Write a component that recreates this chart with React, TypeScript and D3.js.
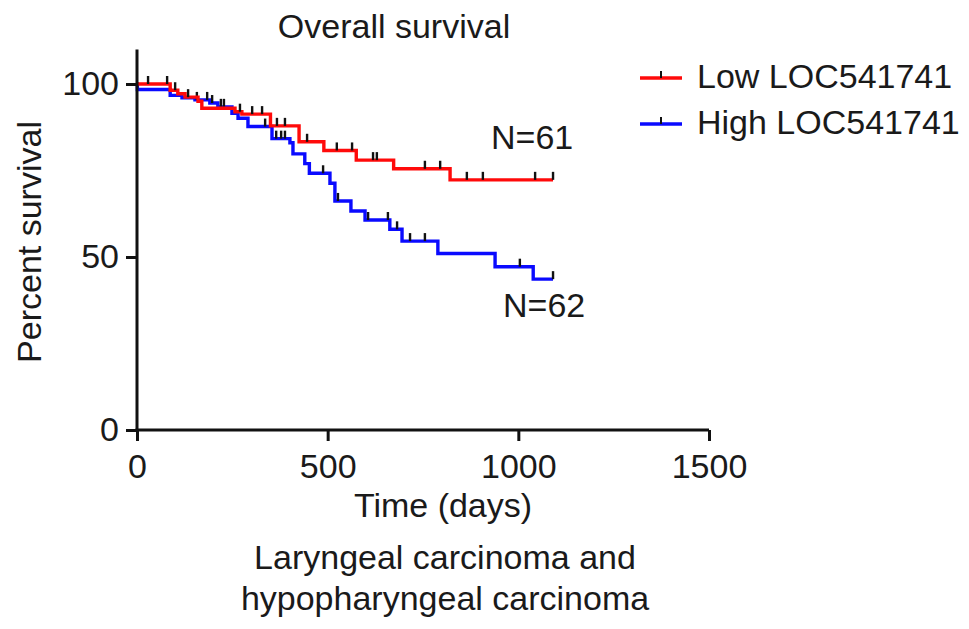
import { useEffect, useRef } from 'react'
import * as d3 from 'd3'

// Kaplan-Meier steps: [day, percent surviving after the event]
const lowSteps: [number, number][] = [
  [0, 100], [87, 98.2], [107, 97.2], [126, 96.2], [160, 95.0], [170, 93.0],
  [257, 92.0], [275, 91.3], [350, 87.9], [425, 83.3], [490, 80.8],
  [575, 78.0], [673, 75.5], [821, 72.3],
]
const highSteps: [number, number][] = [
  [0, 100], [1, 98.4], [87, 96.7], [118, 96.0], [152, 95.4], [191, 94.5],
  [212, 93.4], [249, 91.5], [265, 90.1], [291, 87.7], [354, 84.2], [401, 83.0],
  [409, 79.8], [440, 77.0], [452, 74.2], [506, 71.3], [519, 66.2], [561, 63.3],
  [598, 60.7], [663, 58.0], [695, 54.6], [789, 51.0], [939, 47.2], [1039, 43.6],
]
const lowEnd = 1091
const highEnd = 1091

// censored observations (days)
const lowCensored = [29, 79, 100, 134, 270, 302, 328, 367, 388, 446, 524, 564, 619, 629, 755, 795, 865, 907, 1044, 1091]
const highCensored = [157, 184, 197, 220, 228, 336, 365, 378, 388, 488, 527, 606, 658, 682, 716, 755, 1004, 1091]

const xTicks = [0, 500, 1000, 1500]
const yTicks = [0, 50, 100]
const seriesNames = ['Low LOC541741', 'High LOC541741']
const seriesColors = ['#ff0a0a', '#0a0aff']
const nLabels = ['N=61', 'N=62']

const FONT = '"Liberation Sans", Arial, Helvetica, sans-serif'
const FS = 34

export default function App() {
  const ref = useRef<SVGSVGElement>(null)

  useEffect(() => {
    if (!ref.current) return
    const svg = d3.select(ref.current)
    svg.selectAll('*').remove()

    const x = d3.scaleLinear().domain([0, 1500]).range([137, 709])
    const y = d3.scaleLinear().domain([0, 110]).range([430, 49.4])

    const levelAt = (steps: [number, number][], t: number) => {
      let v = steps[0][1]
      for (const s of steps) if (s[0] <= t) v = s[1]
      return v
    }

    const line = d3.line<[number, number]>()
      .x(d => x(d[0]))
      .y(d => y(d[1]))
      .curve(d3.curveStepAfter)

    const groups = [
      { steps: lowSteps, end: lowEnd, cens: lowCensored, color: seriesColors[0] },
      { steps: highSteps, end: highEnd, cens: highCensored, color: seriesColors[1] },
    ]

    // draw high first so low sits on top like the original
    ;[groups[1], groups[0]].forEach(g => {
      const pts: [number, number][] = [...g.steps, [g.end, g.steps[g.steps.length - 1][1]]]
      svg.append('path')
        .attr('d', line(pts) as string)
        .attr('fill', 'none')
        .attr('stroke', g.color)
        .attr('stroke-width', 3.4)
      g.cens.forEach(t => {
        const yy = y(levelAt(g.steps, t))
        svg.append('line')
          .attr('x1', x(t)).attr('x2', x(t))
          .attr('y1', yy).attr('y2', yy - 8)
          .attr('stroke', '#111')
          .attr('stroke-width', 2.4)
      })
    })

    // axes
    const xAxis = svg.append('g')
      .attr('transform', `translate(0,${y(0)})`)
      .call(d3.axisBottom(x).tickValues(xTicks).tickFormat(d3.format('d')).tickSize(11).tickPadding(6).tickSizeOuter(0))
    const yAxis = svg.append('g')
      .attr('transform', `translate(${x(0)},0)`)
      .call(d3.axisLeft(y).tickValues(yTicks).tickFormat(d3.format('d')).tickSize(11).tickPadding(7).tickSizeOuter(0))

    ;[xAxis, yAxis].forEach(a => {
      a.select('.domain').attr('stroke', '#111').attr('stroke-width', 3)
      a.selectAll('.tick line').attr('stroke', '#111').attr('stroke-width', 3)
      a.selectAll('.tick text')
        .attr('fill', '#1a1a1a')
        .style('font-family', FONT)
        .style('font-size', `${FS}px`)
    })
    // y axis runs to the top of the domain, x axis from the corner to 1500
    yAxis.select('.domain').attr('d', `M0,${y(0) + 1.5}V${y(110)}`)
    xAxis.select('.domain').attr('d', `M${x(0) - 1.5},0H${x(1500)}`)
    xAxis.selectAll('.tick text').attr('dy', '0.9em')

    const txt = (tx: number, ty: number, s: string, anchor = 'middle', size = FS) =>
      svg.append('text')
        .attr('x', tx).attr('y', ty)
        .attr('text-anchor', anchor)
        .style('font-family', FONT)
        .style('font-size', `${size}px`)
        .attr('fill', '#1a1a1a')
        .text(s)

    txt(394, 38, 'Overall survival')
    txt(443, 517, 'Time (days)')
    txt(445, 569, 'Laryngeal carcinoma and')
    txt(445, 610, 'hypopharyngeal carcinoma')
    txt(491, 149, nLabels[0], 'start')
    txt(503, 317, nLabels[1], 'start')

    svg.append('text')
      .attr('transform', 'translate(41,242) rotate(-90)')
      .attr('text-anchor', 'middle')
      .style('font-family', FONT)
      .style('font-size', `${FS}px`)
      .attr('fill', '#1a1a1a')
      .text('Percent survival')

    // legend
    const legY = [78, 124]
    seriesNames.forEach((name, i) => {
      svg.append('line')
        .attr('x1', 640).attr('x2', 682)
        .attr('y1', legY[i]).attr('y2', legY[i])
        .attr('stroke', seriesColors[i]).attr('stroke-width', 3.4)
      svg.append('line')
        .attr('x1', 661).attr('x2', 661)
        .attr('y1', legY[i]).attr('y2', legY[i] - 7)
        .attr('stroke', '#111').attr('stroke-width', 2)
      txt(697, legY[i] + 10, name, 'start')
    })
  }, [])

  return (
    <svg
      ref={ref}
      width={969}
      height={629}
      style={{ position: 'absolute', left: 0, top: 0, background: '#fff' }}
    />
  )
}
